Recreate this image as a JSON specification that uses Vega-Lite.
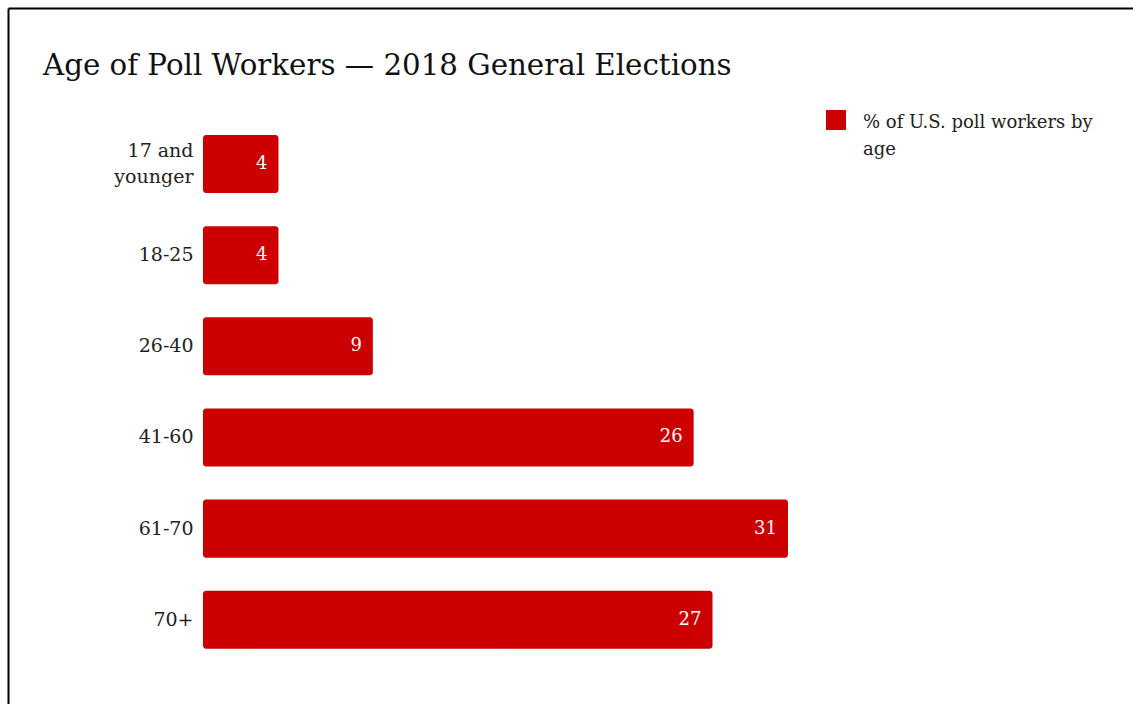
{
  "$schema": "https://vega.github.io/schema/vega-lite/v6.json",
  "usermeta": {"embedOptions": {"actions": false}},
  "width": 1125,
  "height": 696,
  "autosize": {"type": "none"},
  "padding": {"left": 8, "top": 8, "right": 0, "bottom": 0},
  "background": "white",
  "title": {
    "text": "Age of Poll Workers — 2018 General Elections",
    "anchor": "start",
    "frame": "group",
    "dx": 35,
    "offset": -73,
    "font": "DejaVu Serif",
    "fontSize": 29.3,
    "fontWeight": "normal",
    "color": "#111111"
  },
  "config": {"view": {"stroke": null}},
  "data": {
    "values": [
      {"age": "17 and younger", "pct": 4, "series": "% of U.S. poll workers by age"},
      {"age": "18-25", "pct": 4, "series": "% of U.S. poll workers by age"},
      {"age": "26-40", "pct": 9, "series": "% of U.S. poll workers by age"},
      {"age": "41-60", "pct": 26, "series": "% of U.S. poll workers by age"},
      {"age": "61-70", "pct": 31, "series": "% of U.S. poll workers by age"},
      {"age": "70+", "pct": 27, "series": "% of U.S. poll workers by age"}
    ]
  },
  "encoding": {
    "y": {
      "field": "age",
      "type": "nominal",
      "sort": null,
      "scale": {"paddingInner": 0.3636, "paddingOuter": 1, "align": 0.697},
      "axis": {
        "title": null,
        "domain": true,
        "domainColor": "#000000",
        "domainWidth": 2,
        "ticks": false,
        "labelPadding": -185,
        "labelAlign": "right",
        "labelFont": "DejaVu Serif",
        "labelFontSize": 19,
        "labelColor": "#222222",
        "labelLineHeight": 26,
        "labelOffset": {"condition": {"test": "datum.value == '17 and younger'", "value": -13}, "value": 0},
        "labelExpr": "datum.label == '17 and younger' ? ['17 and', 'younger'] : datum.label"
      }
    },
    "x": {
      "field": "pct",
      "type": "quantitative",
      "scale": {"domain": [-10.333, 49.282], "nice": false, "zero": false},
      "axis": {
        "orient": "top",
        "title": null,
        "domain": true,
        "domainColor": "#000000",
        "domainWidth": 2,
        "ticks": false,
        "labels": false,
        "grid": false
      }
    }
  },
  "layer": [
    {
      "mark": {"type": "bar", "cornerRadiusEnd": 3},
      "encoding": {
        "x2": {"datum": 0},
        "color": {
          "field": "series",
          "type": "nominal",
          "scale": {"range": ["#cc0000"]},
          "legend": {
            "orient": "none",
            "legendX": 818,
            "legendY": 102,
            "title": null,
            "symbolType": "square",
            "symbolSize": 400,
            "symbolStrokeWidth": 0,
            "labelFont": "DejaVu Serif",
            "labelFontSize": 18,
            "labelColor": "#222222",
            "labelOffset": 17,
            "labelLimit": 400,
            "labelExpr": "['% of U.S. poll workers by', 'age']",
            "encode": {"labels": {"update": {"lineHeight": {"value": 27}, "dy": {"value": 3}}}}
          }
        }
      }
    },
    {
      "mark": {
        "type": "text",
        "align": "right",
        "baseline": "middle",
        "dx": -11,
        "color": "white",
        "font": "DejaVu Serif",
        "fontSize": 18
      },
      "encoding": {"text": {"field": "pct", "type": "quantitative"}}
    }
  ]
}
